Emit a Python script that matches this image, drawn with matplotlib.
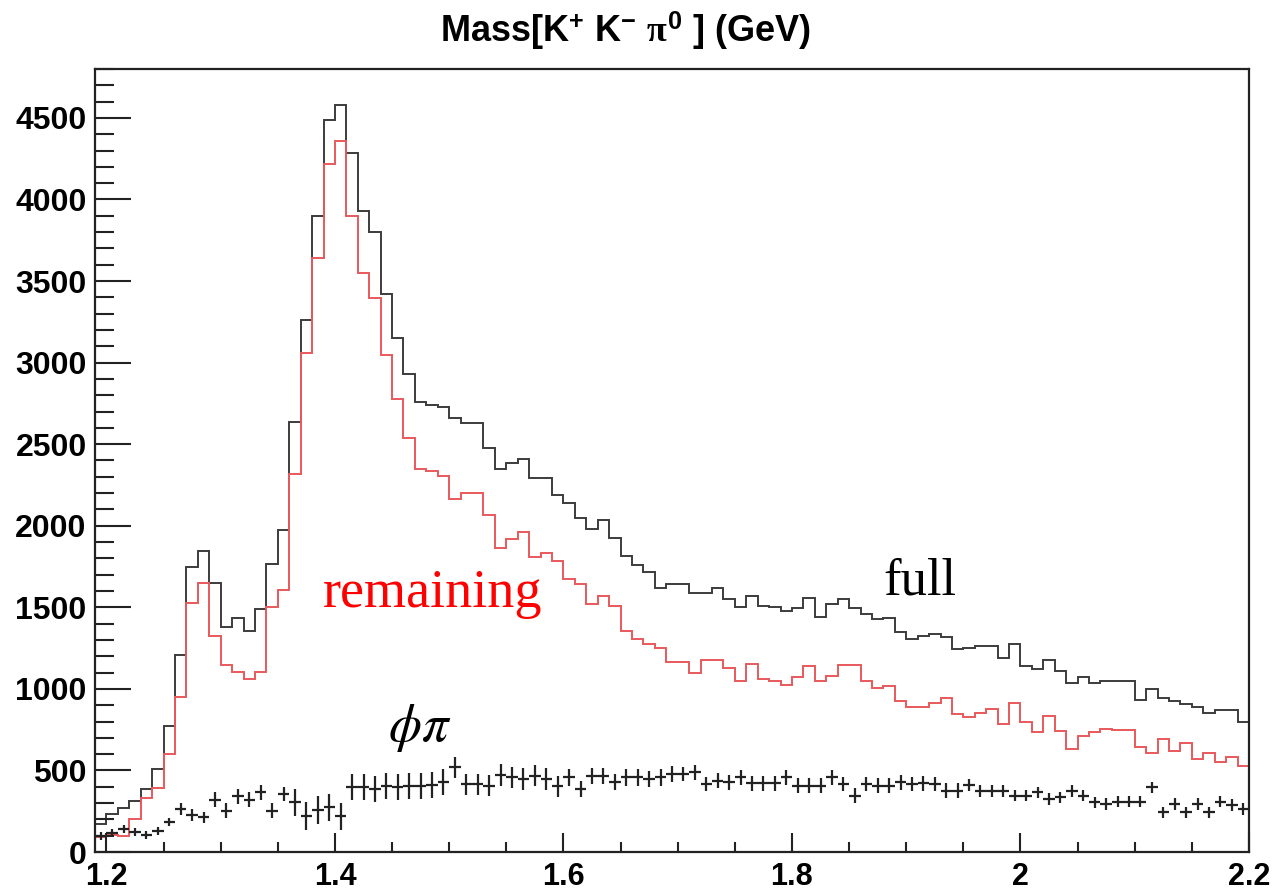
import numpy as np
import matplotlib
matplotlib.use('Agg')
import matplotlib.pyplot as plt
from matplotlib.ticker import MultipleLocator

plt.rcParams['mathtext.fontset'] = 'custom'
plt.rcParams['mathtext.rm'] = 'Liberation Sans:bold'
plt.rcParams['mathtext.it'] = 'Liberation Serif:bold'
plt.rcParams['mathtext.bf'] = 'Liberation Sans:bold'

# binning: 0.01 GeV bins from 1.19 to 2.20
x_lo, bin_w = 1.19, 0.01

# full sample (black histogram)
full = [170, 230, 270, 314, 386, 508, 773, 1210, 1745, 1845,
        1647, 1378, 1433, 1355, 1488, 1764, 1974, 2633, 3264, 3901,
        4485, 4577, 4285, 3927, 3799, 3423, 3150, 2933, 2758, 2743,
        2729, 2662, 2631, 2631, 2478, 2350, 2386, 2411, 2294, 2294,
        2186, 2141, 2050, 1978, 2035, 1927, 1815, 1757, 1717, 1621,
        1641, 1641, 1590, 1590, 1621, 1549, 1504, 1570, 1508, 1504,
        1478, 1498, 1555, 1443, 1519, 1549, 1498, 1457, 1427, 1437,
        1349, 1304, 1325, 1335, 1321, 1243, 1253, 1264, 1264, 1192,
        1274, 1141, 1121, 1178, 1110, 1035, 1070, 1035, 1049, 1049,
        1049, 933, 998, 947, 927, 906, 886, 855, 871, 871,
        798]

# after removing phi pi (red histogram)
remaining = [95, 105, 100, 200, 330, 390, 600, 949, 1525, 1647,
             1325, 1145, 1102, 1060, 1102, 1502, 1606, 2315, 3060, 3641,
             4219, 4356, 3901, 3550, 3397, 3046, 2774, 2539, 2350, 2336,
             2305, 2162, 2203, 2203, 2066, 1866, 1917, 1962, 1811, 1835,
             1784, 1676, 1641, 1519, 1569, 1508, 1355, 1304, 1274, 1253,
             1165, 1165, 1100, 1176, 1176, 1131, 1049, 1151, 1059, 1049,
             1023, 1070, 1141, 1049, 1080, 1145, 1145, 1049, 1008, 1018,
             927, 886, 886, 912, 947, 845, 825, 855, 876, 784,
             912, 794, 733, 835, 743, 631, 712, 737, 753, 747,
             747, 641, 606, 692, 620, 667, 570, 606, 553, 580,
             528]

# phi pi component (points with errors)
phipi = [100, 114, 141, 124, 104, 131, 182, 263, 227, 212,
         320, 253, 341, 320, 366, 253, 355, 304, 222, 259,
         273, 218, 396, 396, 386, 406, 396, 406, 406, 410,
         427, 519, 416, 416, 406, 472, 457, 448, 467, 448,
         402, 457, 386, 467, 467, 431, 457, 457, 448, 457,
         478, 478, 488, 416, 437, 427, 457, 422, 422, 422,
         457, 406, 406, 406, 457, 416, 345, 416, 406, 406,
         427, 416, 422, 416, 375, 375, 410, 375, 375, 375,
         345, 345, 366, 325, 335, 375, 345, 304, 294, 308,
         308, 308, 396, 243, 294, 243, 294, 243, 308, 288,
         263]

phipi_err = [25, 25, 25, 25, 25, 25, 25, 35, 35, 35,
             45, 45, 45, 45, 45, 45, 45, 85, 85, 85,
             85, 85, 80, 80, 80, 80, 80, 80, 80, 80,
             80, 65, 65, 65, 65, 65, 65, 65, 65, 65,
             65, 50, 50, 50, 50, 50, 50, 50, 50, 50,
             50, 45, 45, 45, 45, 45, 45, 45, 45, 45,
             45, 45, 45, 45, 45, 45, 45, 45, 45, 45,
             45, 45, 45, 45, 45, 45, 35, 35, 35, 35,
             35, 35, 35, 35, 35, 35, 35, 35, 35, 35,
             35, 35, 35, 35, 35, 35, 35, 35, 35, 35,
             35]

xticks = [1.2, 1.4, 1.6, 1.8, 2.0, 2.2]
xtick_labels = ['1.2', '1.4', '1.6', '1.8', '2', '2.2']
yticks = [0, 500, 1000, 1500, 2000, 2500, 3000, 3500, 4000, 4500]

edges = np.round(x_lo + bin_w * np.arange(len(full) + 1), 3)
centers = edges[:-1] + bin_w / 2

fig = plt.figure(figsize=(12.76, 8.93), dpi=100)
ax = fig.add_axes([95 / 1276, 41 / 893, (1249 - 95) / 1276, (852 - 69) / 893])

ax.stairs(full, edges, baseline=None, color='#3c3c3c', lw=1.4)
ax.stairs(remaining, edges, baseline=None, color='#e85a5c', lw=1.4)
ax.errorbar(centers, phipi, yerr=phipi_err, xerr=bin_w / 2, fmt='none',
            ecolor='#222222', elinewidth=1.6, capsize=0)

ax.set_xlim(1.19, 2.2)
ax.set_ylim(0, 4800)

ax.set_xticks(xticks)
ax.set_xticklabels(xtick_labels)
ax.set_yticks(yticks)
ax.xaxis.set_minor_locator(MultipleLocator(0.05))
ax.yaxis.set_minor_locator(MultipleLocator(100))
ax.tick_params(which='both', direction='in', top=False, right=False, width=1.5, color='#222222')
ax.tick_params(axis='y', which='major', length=26, pad=6)
ax.tick_params(axis='y', which='minor', length=14)
ax.tick_params(axis='x', which='major', length=14, pad=7)
ax.tick_params(axis='x', which='minor', length=7)
for lab in ax.get_yticklabels():
    lab.set_fontfamily('Liberation Sans')
    lab.set_fontweight('bold')
    lab.set_fontsize(23)
for lab in ax.get_xticklabels():
    lab.set_fontfamily('Liberation Sans')
    lab.set_fontweight('bold')
    lab.set_fontsize(22)
for sp in ax.spines.values():
    sp.set_linewidth(1.6)
    sp.set_color('#222222')

# labels on the plot
ax.text(1.3896, 1500, 'remaining', color='red', family='Liberation Serif', fontsize=39, va='baseline')
ax.text(1.8804, 1580, 'full', color='black', family='Liberation Serif', fontsize=38, va='baseline')
ax.text(1.4463, 680, r'$\phi\pi$', color='black', fontsize=38, va='baseline', math_fontfamily='stix')

fig.text(0.4906, 0.965, r'Mass[K$^{+}$ K$^{-}$ $\pi^{0}$ ] (GeV)', ha='center', va='center',
         family='Liberation Sans', fontweight='bold', fontsize=26, math_fontfamily='custom')

fig.savefig('out.png', dpi=100)
